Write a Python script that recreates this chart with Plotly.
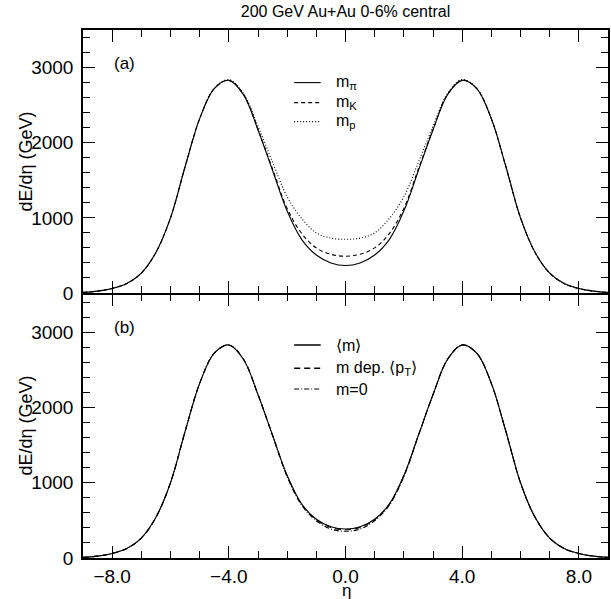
import plotly.graph_objects as go

# pseudorapidity grid
eta = [-9.0, -8.5, -8.0, -7.5, -7.0, -6.5, -6.0, -5.5, -5.0, -4.5, -4.0, -3.5, -3.0,
       -2.5, -2.0, -1.5, -1.0, -0.5, 0.0, 0.5, 1.0, 1.5, 2.0, 2.5, 3.0, 3.5, 4.0,
       4.5, 5.0, 5.5, 6.0, 6.5, 7.0, 7.5, 8.0, 8.5, 9.0]

# panel (a): dE/deta for different masses
m_pi = [8, 25, 60, 125, 265, 540, 1000, 1680, 2320, 2720, 2830, 2640, 2170,
        1630, 1090, 710, 505, 400, 365, 400, 505, 710, 1090, 1630, 2170, 2640, 2830,
        2720, 2320, 1680, 1000, 540, 265, 125, 60, 25, 8]
m_K = [8, 25, 60, 125, 265, 540, 1000, 1680, 2320, 2720, 2832, 2645, 2175,
       1650, 1125, 790, 600, 515, 490, 515, 600, 790, 1125, 1650, 2175, 2645, 2832,
       2720, 2320, 1680, 1000, 540, 265, 125, 60, 25, 8]
m_p = [8, 25, 60, 125, 265, 540, 1000, 1680, 2320, 2725, 2840, 2655, 2220,
       1740, 1280, 990, 800, 730, 715, 730, 800, 990, 1280, 1740, 2220, 2655, 2840,
       2725, 2320, 1680, 1000, 540, 265, 125, 60, 25, 8]

# panel (b): mean mass, mass dependent <pT>, massless
m_avg = [8, 25, 60, 125, 265, 540, 1000, 1680, 2320, 2720, 2830, 2640, 2170,
         1630, 1095, 715, 515, 415, 385, 415, 515, 715, 1095, 1630, 2170, 2640, 2830,
         2720, 2320, 1680, 1000, 540, 265, 125, 60, 25, 8]
m_dep = [8, 25, 60, 125, 265, 540, 1000, 1680, 2320, 2720, 2830, 2640, 2170,
         1630, 1090, 712, 510, 405, 375, 405, 510, 712, 1090, 1630, 2170, 2640, 2830,
         2720, 2320, 1680, 1000, 540, 265, 125, 60, 25, 8]
m_zero = [8, 25, 60, 125, 265, 540, 1000, 1680, 2320, 2720, 2830, 2640, 2170,
          1625, 1080, 700, 495, 385, 355, 385, 495, 700, 1080, 1625, 2170, 2640, 2830,
          2720, 2320, 1680, 1000, 540, 265, 125, 60, 25, 8]

top_names = ["m<sub>π</sub>", "m<sub>K</sub>", "m<sub>p</sub>"]
bot_names = ["⟨m⟩", "m dep. ⟨p<sub>T</sub>⟩", "m=0"]

FONT = "Liberation Sans, Arial, Helvetica, sans-serif"
top_dash = ["solid", "4px,3px", "1px,2px"]
bot_dash = ["solid", "6px,4px", "5px,2px,1px,2px"]

fig = go.Figure()

for ys, d in zip([m_pi, m_K, m_p], top_dash):
    fig.add_trace(go.Scatter(x=eta, y=ys, mode="lines", xaxis="x2", yaxis="y2",
                             line=dict(color="black", width=1.1, dash=d, shape="spline"),
                             showlegend=False, hoverinfo="skip"))
for ys, d in zip([m_avg, m_dep, m_zero], bot_dash):
    fig.add_trace(go.Scatter(x=eta, y=ys, mode="lines", xaxis="x", yaxis="y",
                             line=dict(color="black", width=1.1, dash=d, shape="spline"),
                             showlegend=False, hoverinfo="skip"))

axis_style = dict(showline=True, linecolor="black", linewidth=1.5, mirror="allticks",
                  ticks="inside", ticklen=12, tickwidth=1, tickcolor="black",
                  showgrid=False, zeroline=False,
                  tickfont=dict(family=FONT, size=19, color="black"))

# panel split (bottom panel slightly shorter so the shared frame lines coincide)
split = 265 / 528
gap = 1.5 / 528

fig.update_layout(
    width=611, height=599,
    margin=dict(l=83, r=1, t=30, b=41),
    paper_bgcolor="white", plot_bgcolor="white",
    title=dict(text="200 GeV Au+Au 0-6% central", x=0.5, xref="paper",
               y=1 - 11 / 599, yanchor="middle",
               font=dict(family=FONT, size=16, color="black")),
    xaxis=dict(axis_style, range=[-9, 9], tick0=0, dtick=4, tickformat=".1f",
               anchor="y", ticklabelstandoff=0,
               minor=dict(ticks="inside", ticklen=7, tickwidth=1, tickcolor="black", dtick=1)),
    xaxis2=dict(axis_style, range=[-9, 9], tick0=0, dtick=4, anchor="y2",
                matches="x", showticklabels=False,
                minor=dict(ticks="inside", ticklen=7, tickwidth=1, tickcolor="black", dtick=1)),
    yaxis=dict(axis_style, range=[0, 3500], dtick=1000, domain=[0, split - gap],
               anchor="x", ticklabelstandoff=4,
               minor=dict(ticks="inside", ticklen=7, tickwidth=1, tickcolor="black", dtick=200)),
    yaxis2=dict(axis_style, range=[0, 3500], dtick=1000, domain=[split, 1],
                anchor="x2", ticklabelstandoff=4,
                minor=dict(ticks="inside", ticklen=7, tickwidth=1, tickcolor="black", dtick=200)),
)

# legend keys drawn by hand to match the original style
top_rows = [2800, 2534, 2281]
bot_rows = [2829, 2519, 2244]
shapes = []
annots = []
for yv, d, name in zip(top_rows, top_dash, top_names):
    shapes.append(dict(type="line", xref="x2", yref="y2", x0=-1.76, x1=-0.85, y0=yv, y1=yv,
                       line=dict(color="black", width=1.1, dash=d)))
    annots.append(dict(xref="x2", yref="y2", x=-0.38, y=yv, text=name, showarrow=False,
                       xanchor="left", yanchor="middle",
                       font=dict(family=FONT, size=16, color="black")))
for yv, d, name in zip(bot_rows, bot_dash, bot_names):
    shapes.append(dict(type="line", xref="x", yref="y", x0=-1.76, x1=-0.85, y0=yv, y1=yv,
                       line=dict(color="black", width=1.5 if d != bot_dash[2] else 1.1, dash=d)))
    annots.append(dict(xref="x", yref="y", x=-0.38, y=yv, text=name, showarrow=False,
                       xanchor="left", yanchor="middle",
                       font=dict(family=FONT, size=16, color="black")))

# panel labels
annots.append(dict(xref="x2", yref="y2", x=-8.0, y=3050, text="(a)", showarrow=False,
                   xanchor="left", yanchor="middle", font=dict(family=FONT, size=17, color="black")))
annots.append(dict(xref="x", yref="y", x=-8.0, y=3068, text="(b)", showarrow=False,
                   xanchor="left", yanchor="middle", font=dict(family=FONT, size=17, color="black")))

# axis titles
for yc in [split / 2, (1 + split) / 2]:
    annots.append(dict(xref="paper", yref="paper", x=0, y=yc, xshift=-58, text="dE/dη (GeV)",
                       textangle=-90, showarrow=False, xanchor="center", yanchor="middle",
                       font=dict(family=FONT, size=18, color="black")))
annots.append(dict(xref="paper", yref="paper", x=0, y=0, xshift=263, yshift=-32, text="η",
                   showarrow=False, xanchor="center", yanchor="middle",
                   font=dict(family=FONT, size=17, color="black")))

fig.update_layout(shapes=shapes, annotations=annots)

# drop the browser's default page margin so the figure sits at the window corner
fig.write_html("out.html", config={"displayModeBar": False},
               post_script="document.body.style.margin='0';")
